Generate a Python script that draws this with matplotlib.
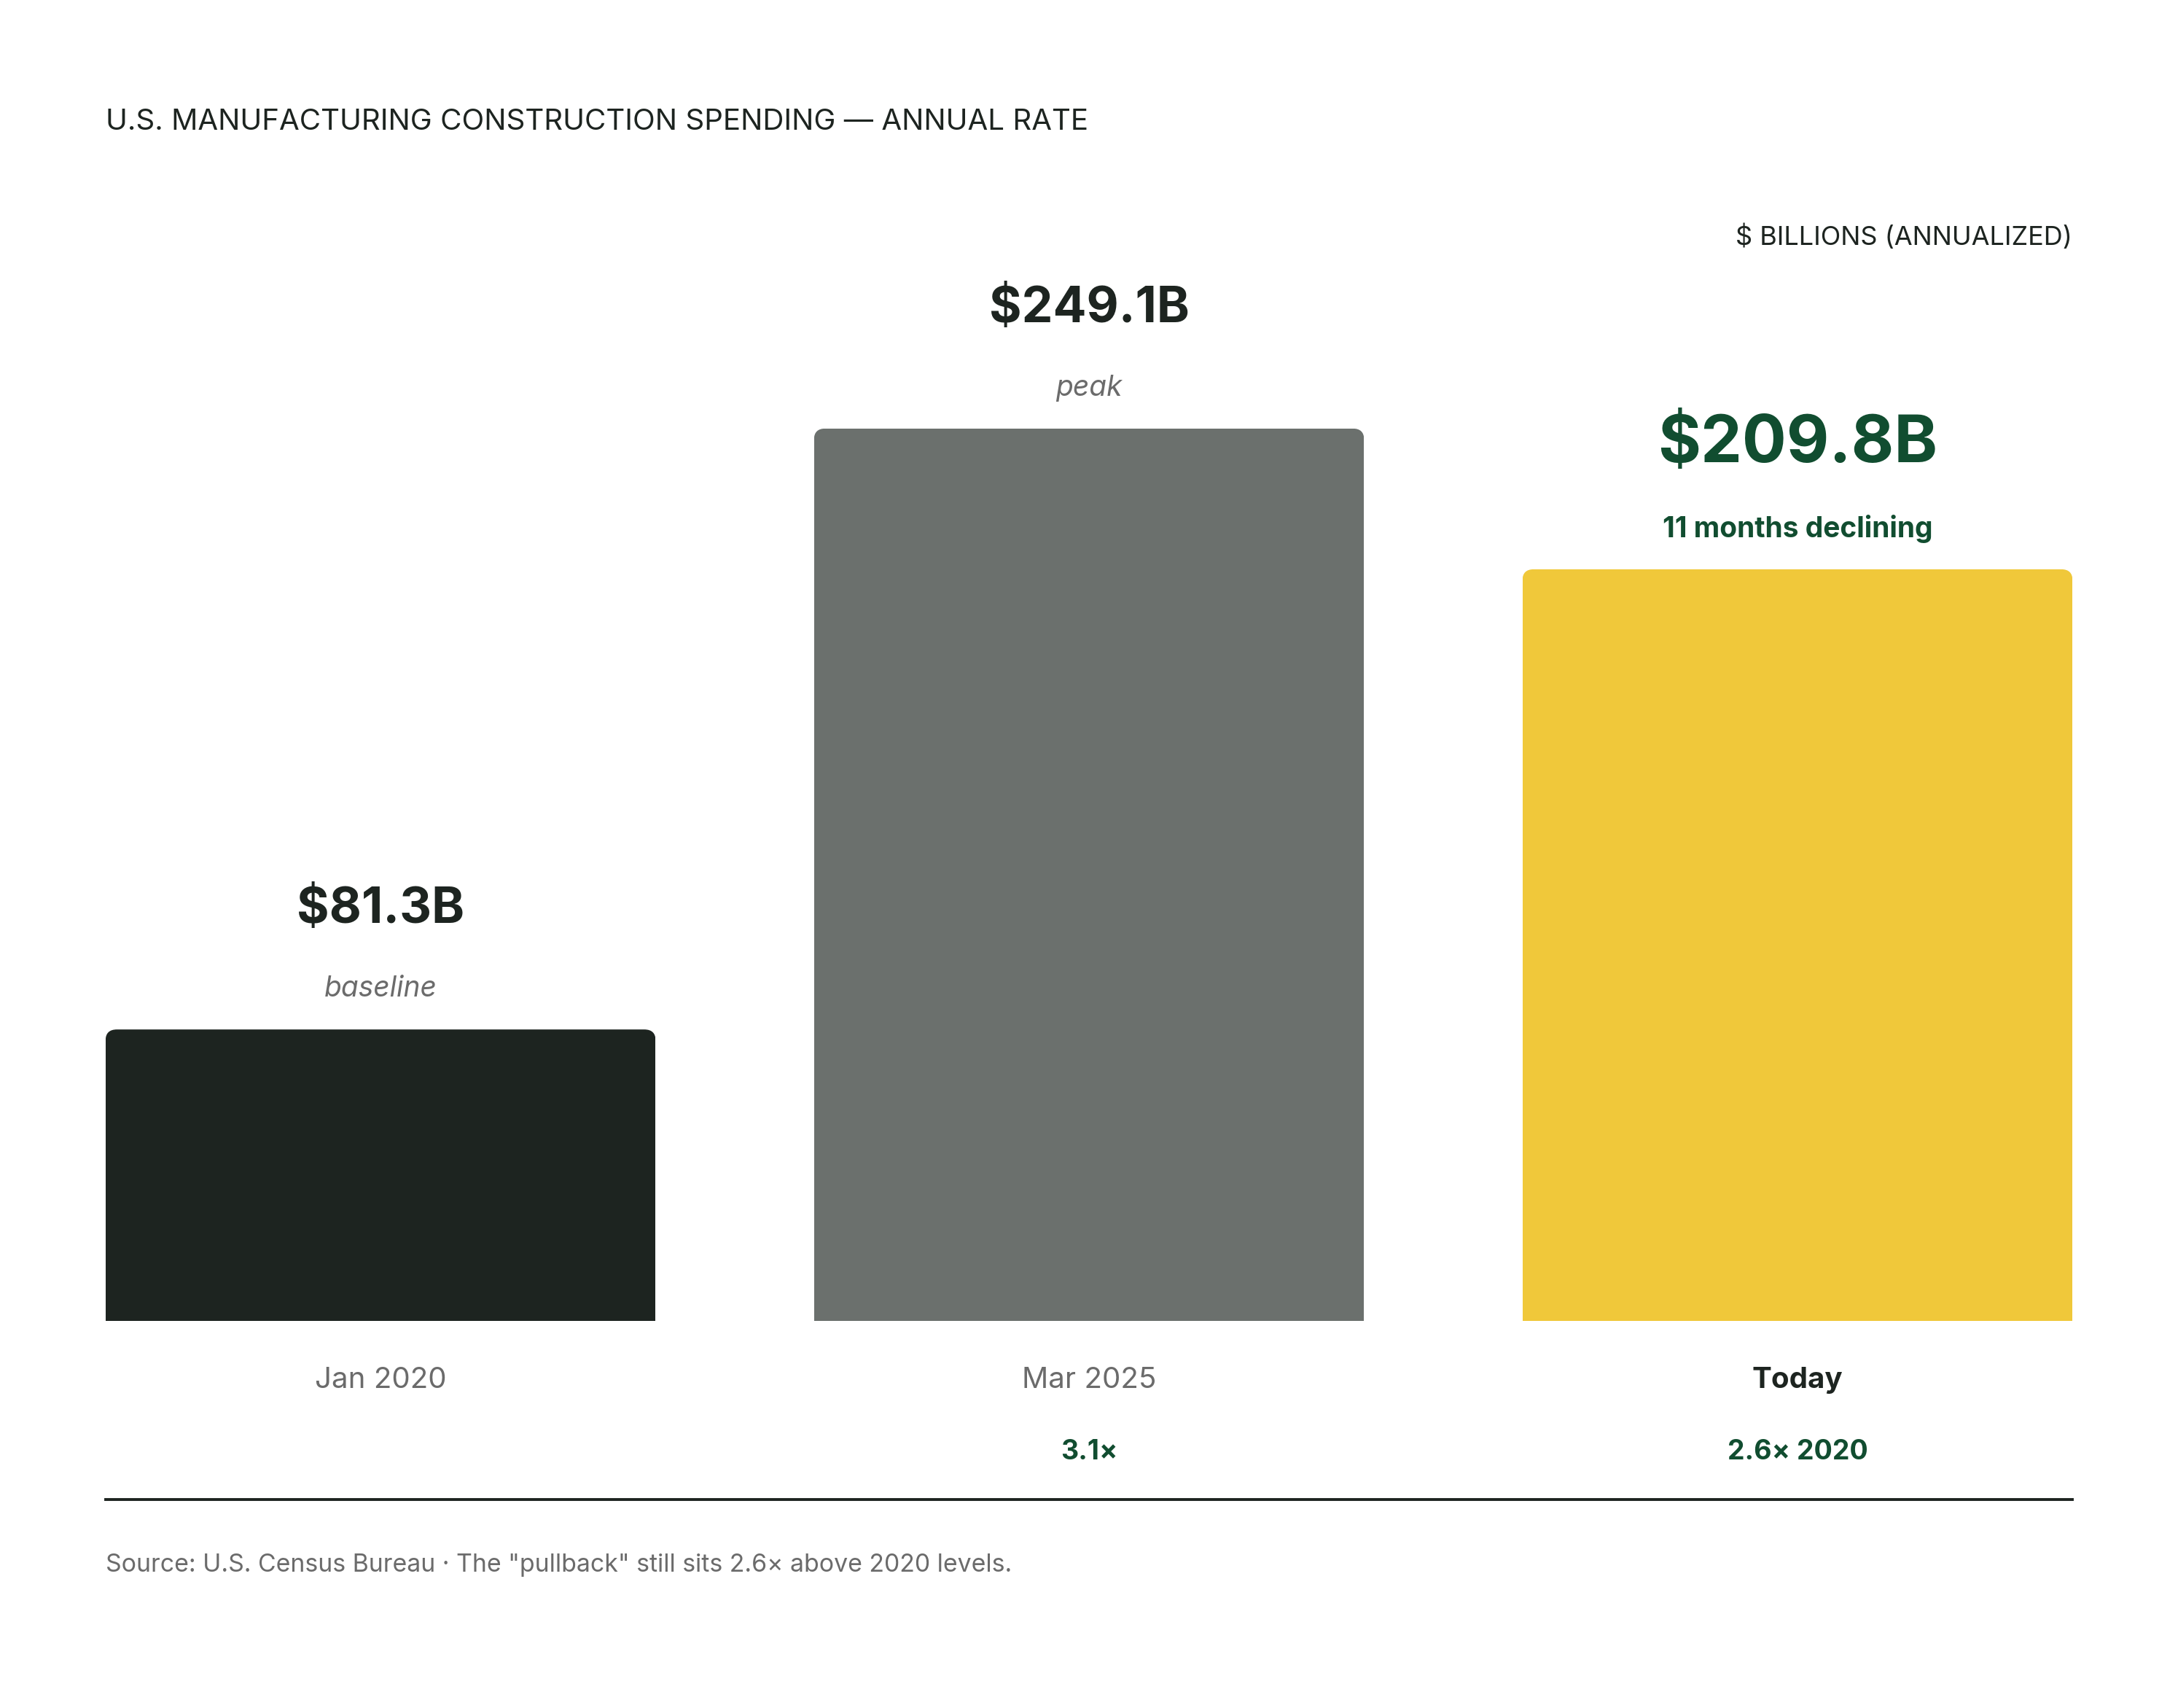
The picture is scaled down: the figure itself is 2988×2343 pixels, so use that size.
import matplotlib
matplotlib.use("Agg")
import matplotlib.pyplot as plt
from matplotlib.patches import FancyBboxPatch

plt.rcParams['font.family'] = ['Inter', 'DejaVu Sans']

categories = ['Jan 2020', 'Mar 2025', 'Today']
values = [81.3, 249.1, 209.8]
value_labels = ['$81.3B', '$249.1B', '$209.8B']
notes = ['baseline', 'peak', '11 months declining']
multiples = ['', '3.1\u00d7', '2.6\u00d7 2020']

dark = '#1d2420'
grey = '#6b706d'
yellow = '#f0c83a'
green = '#114d30'
text_grey = '#6b6b6b'
bar_colors = [dark, grey, yellow]

fig = plt.figure(figsize=(14.94, 11.715), dpi=200)
ax = fig.add_axes([0.04847, 0.2268, 0.9031, 0.650])

width = 0.7765
x = list(range(len(categories)))
bars = ax.bar(x, values, width=width, color=bar_colors, linewidth=0)

# rounded top corners via clip path
rx, ry = 0.016, 3.1
for b in bars:
    clip = FancyBboxPatch((b.get_x(), -ry * 2), b.get_width(), b.get_height() + ry * 2,
                          boxstyle=f"round,pad=0,rounding_size={rx}",
                          mutation_aspect=ry / rx, transform=ax.transData,
                          facecolor='none', edgecolor='none')
    ax.add_patch(clip)
    b.set_clip_path(clip)

ax.set_xlim(-0.3882, 2.3882)
ax.set_ylim(0, 310)
ax.axis('off')

for i, (v, lab, note) in enumerate(zip(values, value_labels, notes)):
    last = i == len(values) - 1
    ax.annotate(lab, (i, v), xytext=(0, 61.5 if last else 59), textcoords='offset points',
                ha='center', va='center', fontsize=32.5 if last else 24.5,
                fontweight='bold', color=green if last else dark)
    ax.annotate(note, (i, v), xytext=(0, 20), textcoords='offset points',
                ha='center', va='center', fontsize=14,
                fontweight='bold' if last else 'normal',
                fontstyle='normal' if last else 'italic',
                color=green if last else text_grey)

for i, (cat, mult) in enumerate(zip(categories, multiples)):
    last = i == len(categories) - 1
    ax.annotate(cat, (i, 0), xytext=(0, -29.5), textcoords='offset points',
                ha='center', va='center', fontsize=14.5,
                fontweight='bold' if last else 'normal',
                color=dark if last else text_grey)
    if mult:
        ax.annotate(mult, (i, 0), xytext=(0, -65), textcoords='offset points',
                    ha='center', va='center', fontsize=13.5,
                    fontweight='bold', color=green)

fig.text(0.04847, 0.9285, 'U.S. MANUFACTURING CONSTRUCTION SPENDING \u2014 ANNUAL RATE',
         ha='left', va='center', fontsize=14.5, color=dark)
fig.text(0.9515, 0.861, '$ BILLIONS (ANNUALIZED)', ha='right', va='center',
         fontsize=13, color=dark)

fig.add_artist(plt.Line2D([0.04847, 0.9515], [0.122, 0.122], color=dark, linewidth=1.4))
fig.text(0.04847, 0.0837,
         'Source: U.S. Census Bureau \u00b7 The "pullback" still sits 2.6\u00d7 above 2020 levels.',
         ha='left', va='center', fontsize=12.2, color=text_grey)

fig.savefig('out.png', dpi=200, facecolor='white')
